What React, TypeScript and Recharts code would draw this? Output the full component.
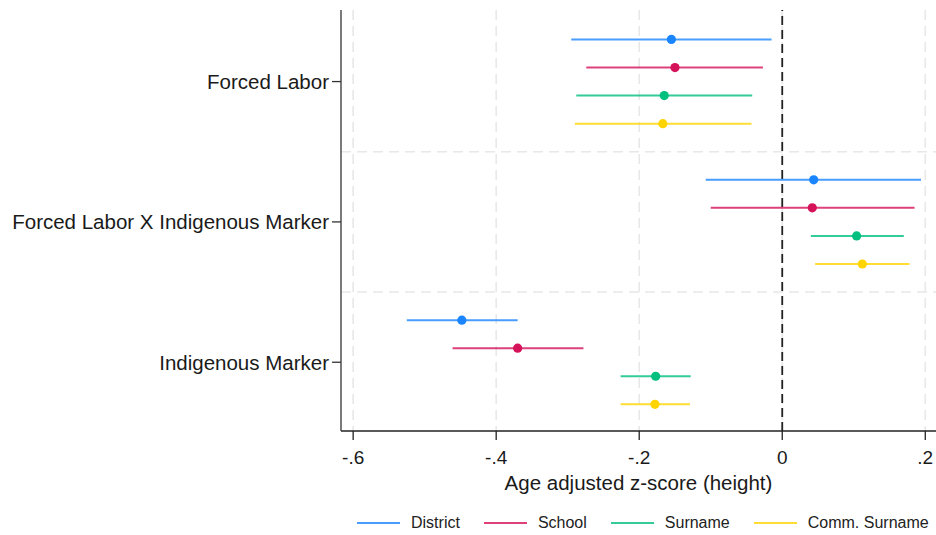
import React from "react";
import {
  ScatterChart,
  Scatter,
  XAxis,
  YAxis,
  CartesianGrid,
  ErrorBar,
  ReferenceLine,
  Legend,
} from "recharts";

const groups = ["Forced Labor", "Forced Labor X Indigenous Marker", "Indigenous Marker"];
const seriesNames = ["District", "School", "Surname", "Comm. Surname"];
const seriesColors = ["#1a85ff", "#d41159", "#00bf7f", "#ffd400"];
const seriesOffsets = [-0.3, -0.1, 0.1, 0.3];
const xTicks = [-0.6, -0.4, -0.2, 0, 0.2];

// point estimates per series, one per group
const estimates = [
  [-0.155, 0.044, -0.448],
  [-0.15, 0.042, -0.37],
  [-0.165, 0.104, -0.177],
  [-0.167, 0.112, -0.178],
];
const lowerCI = [
  [-0.295, -0.107, -0.525],
  [-0.274, -0.1, -0.461],
  [-0.288, 0.04, -0.226],
  [-0.29, 0.046, -0.226],
];
const upperCI = [
  [-0.015, 0.194, -0.37],
  [-0.027, 0.185, -0.278],
  [-0.042, 0.17, -0.128],
  [-0.043, 0.178, -0.129],
];

const font = "'Liberation Sans', Arial, sans-serif";

const seriesData = seriesNames.map((name, s) =>
  groups.map((g, i) => ({
    group: g,
    x: estimates[s][i],
    y: i + seriesOffsets[s],
    err: [estimates[s][i] - lowerCI[s][i], upperCI[s][i] - estimates[s][i]],
  }))
);

const fmtX = (v: number) => {
  if (Math.abs(v) < 1e-9) return "0";
  const s = Math.abs(v).toFixed(1).replace(/^0/, "");
  return (v < 0 ? "-" : "") + s;
};

const renderLegend = () => (
  <div
    style={{
      height: 37,
      width: 936,
      boxSizing: "border-box",
      paddingTop: 12,
      paddingLeft: 357,
      display: "flex",
      alignItems: "center",
      fontFamily: font,
      fontSize: 16,
      color: "#222",
      whiteSpace: "nowrap",
    }}
  >
    {seriesNames.map((n, i) => (
      <div
        key={n}
        style={{ display: "flex", alignItems: "center", marginRight: 24, flexShrink: 0 }}
      >
        <span
          style={{
            display: "inline-block",
            width: 43,
            height: 2,
            background: seriesColors[i],
            opacity: 0.8,
          }}
        />
        <span style={{ marginLeft: 11 }}>{n}</span>
      </div>
    ))}
  </div>
);

export default function App() {
  return (
    <div style={{ position: "absolute", left: 0, top: 0, background: "#fff" }}>
      <ScatterChart
        width={936}
        height={535}
        margin={{ top: 10, right: 0, bottom: 0, left: 0 }}
      >
        <CartesianGrid
          stroke="#e8e8e8"
          strokeDasharray="10 6"
          strokeWidth={1.6}
          horizontalValues={[0.5, 1.5]}
          verticalValues={xTicks}
        />
        <XAxis
          type="number"
          dataKey="x"
          domain={[-0.617, 0.215]}
          allowDataOverflow
          ticks={xTicks}
          interval={0}
          tickFormatter={fmtX}
          height={67}
          tickSize={9}
          tickMargin={11}
          stroke="#222"
          strokeWidth={1.3}
          tick={{ fontSize: 19, fill: "#1a1a1a", fontFamily: font }}
          label={{
            value: "Age adjusted z-score (height)",
            position: "insideBottom",
            offset: 8,
            fontSize: 20.5,
            fill: "#1a1a1a",
            fontFamily: font,
          }}
        />
        <YAxis
          type="number"
          dataKey="y"
          domain={[-0.51, 2.49]}
          allowDataOverflow
          reversed
          ticks={[0, 1, 2]}
          interval={0}
          tickFormatter={(v: number) => groups[v] ?? ""}
          width={341}
          tickSize={9}
          tickMargin={3}
          stroke="#333"
          strokeWidth={1.3}
          tick={{ fontSize: 20.5, fill: "#1a1a1a", fontFamily: font }}
        />
        <ReferenceLine x={0} stroke="#222" strokeWidth={1.8} strokeDasharray="9 5" />
        {seriesNames.map((n, s) => (
          <Scatter
            key={n}
            name={n}
            data={seriesData[s]}
            fill={seriesColors[s]}
            isAnimationActive={false}
            shape={(p: any) => <circle cx={p.cx} cy={p.cy} r={4.6} fill={seriesColors[s]} />}
          >
            <ErrorBar
              dataKey="err"
              direction="x"
              width={0}
              stroke={seriesColors[s]}
              strokeOpacity={0.8}
              strokeWidth={2}
            />
          </Scatter>
        ))}
        <Legend
          verticalAlign="bottom"
          content={renderLegend}
          wrapperStyle={{ left: 0, bottom: 0, width: 936 }}
        />
      </ScatterChart>
    </div>
  );
}
